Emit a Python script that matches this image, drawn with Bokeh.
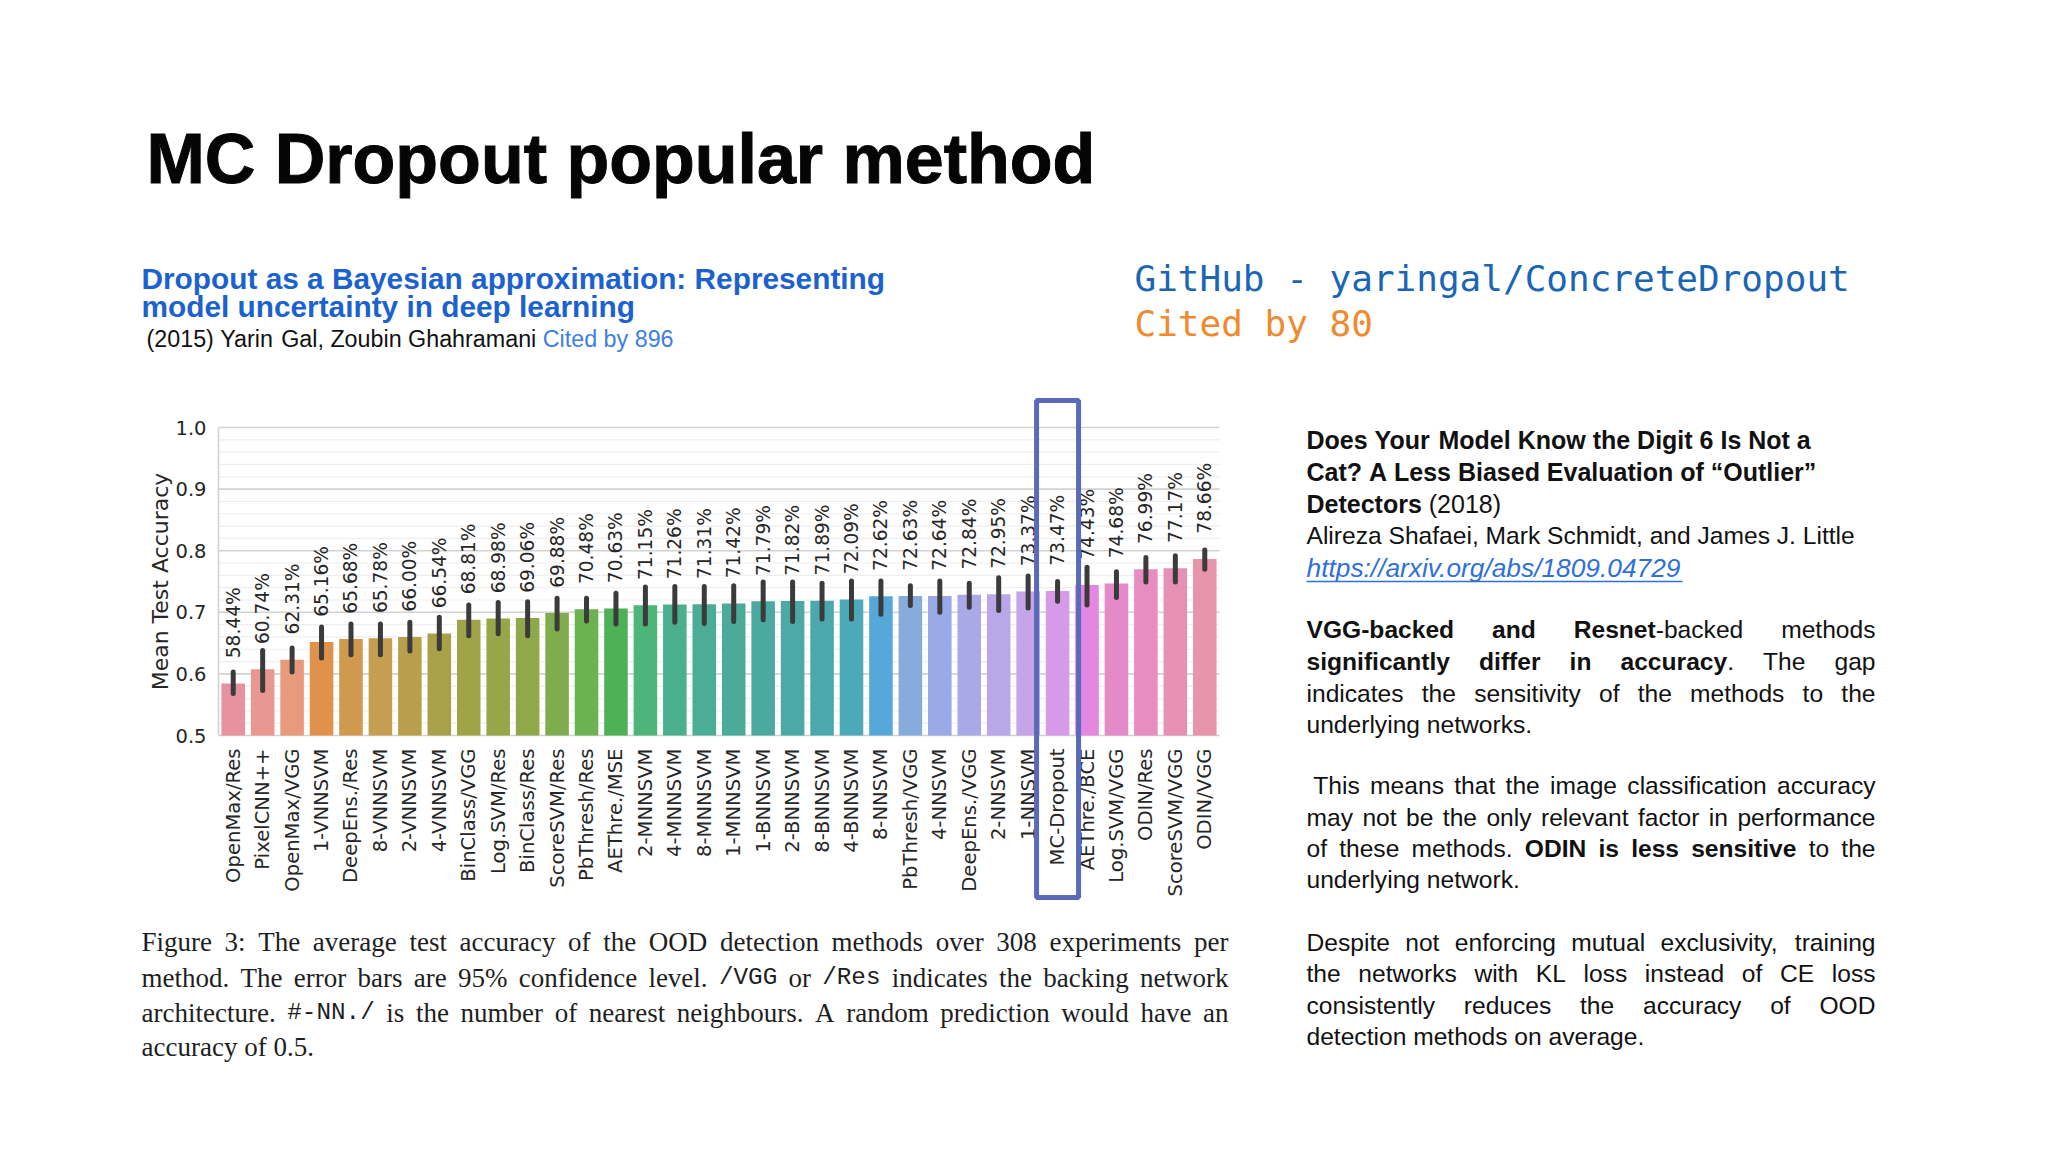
import numpy as np
from bokeh.plotting import figure
from bokeh.models import Range1d, ColumnDataSource
from bokeh.core.properties import value
from bokeh.embed import file_html
from bokeh.resources import INLINE

# ---------------- data ----------------
methods = ["OpenMax/Res", "PixelCNN++", "OpenMax/VGG", "1-VNNSVM", "DeepEns./Res",
           "8-VNNSVM", "2-VNNSVM", "4-VNNSVM", "BinClass/VGG", "Log.SVM/Res",
           "BinClass/Res", "ScoreSVM/Res", "PbThresh/Res", "AEThre./MSE", "2-MNNSVM",
           "4-MNNSVM", "8-MNNSVM", "1-MNNSVM", "1-BNNSVM", "2-BNNSVM", "8-BNNSVM",
           "4-BNNSVM", "8-NNSVM", "PbThresh/VGG", "4-NNSVM", "DeepEns./VGG", "2-NNSVM",
           "1-NNSVM", "MC-Dropout", "AEThre./BCE", "Log.SVM/VGG", "ODIN/Res",
           "ScoreSVM/VGG", "ODIN/VGG"]
accuracy_pct = [58.44, 60.74, 62.31, 65.16, 65.68, 65.78, 66.00, 66.54, 68.81, 68.98,
                69.06, 69.88, 70.48, 70.63, 71.15, 71.26, 71.31, 71.42, 71.79, 71.82,
                71.89, 72.09, 72.62, 72.63, 72.64, 72.84, 72.95, 73.37, 73.47, 74.43,
                74.68, 76.99, 77.17, 78.66]
ci_low = [0.568, 0.573, 0.603, 0.626, 0.631, 0.631, 0.637, 0.641, 0.662, 0.665,
          0.662, 0.673, 0.686, 0.681, 0.681, 0.684, 0.682, 0.685, 0.688, 0.685,
          0.689, 0.689, 0.697, 0.711, 0.700, 0.708, 0.703, 0.707, 0.718, 0.712,
          0.724, 0.749, 0.749, 0.770]
ci_high = [0.603, 0.638, 0.642, 0.676, 0.681, 0.681, 0.684, 0.692, 0.712, 0.716,
           0.717, 0.723, 0.723, 0.731, 0.741, 0.742, 0.742, 0.743, 0.749, 0.749,
           0.747, 0.751, 0.751, 0.743, 0.751, 0.747, 0.756, 0.759, 0.750, 0.773,
           0.766, 0.789, 0.792, 0.801]
bar_colors = ["#e8929f", "#e99791", "#e89b7c", "#e0914b", "#cf9a4d", "#c59e4f", "#b99f4c",
              "#a9a14a", "#9fa546", "#97a647", "#8ea84a", "#7fad4e", "#6cb250", "#4fb156",
              "#4db47a", "#4aaf8c", "#4bad96", "#4aab99", "#4aaa9f", "#4ba9a6", "#4ba9ad",
              "#4ca9b8", "#56a8d8", "#87acdc", "#9aaae6", "#aaa9e8", "#b9a7ea", "#c6a4e8",
              "#d79ae8", "#e487e0", "#e48ac8", "#e88dc0", "#e590b4", "#e795ab"]
y_ticks = [0.5, 0.6, 0.7, 0.8, 0.9, 1.0]
y_tick_labels = ["0.5", "0.6", "0.7", "0.8", "0.9", "1.0"]
highlight = "MC-Dropout"

# ---------------- canvas ----------------
W, H = 2032, 1136
def X(ox): return ox
def Y(oy): return oy
TEXT_DY = -8   # vertical correction for slide text runs

CH_LEFT, CH_RIGHT, CH_TOP, CH_BOT = 218, 1219, 427, 735
n = len(methods)
kx = (CH_RIGHT - CH_LEFT) / n
ky = (CH_BOT - CH_TOP) / 0.5

p = figure(width=W, height=H, x_range=Range1d(0, W), y_range=Range1d(H, 0),
           output_backend="svg", toolbar_location=None, min_border=0,
           x_axis_location=None, y_axis_location=None)
p.grid.visible = False
p.outline_line_color = None
p.background_fill_color = "white"
p.border_fill_color = "white"
p.extra_x_ranges = {"bx": Range1d(-0.5 - X(CH_LEFT) / kx, (n - 0.5) + (W - X(CH_RIGHT)) / kx)}
p.extra_y_ranges = {"by": Range1d(0.5 - (H - Y(CH_BOT)) / ky, 1.0 + Y(CH_TOP) / ky)}
R = dict(x_range_name="bx", y_range_name="by")

idx = list(range(n))
acc = [a / 100 for a in accuracy_pct]

# grid
minor = [round(0.5 + 0.02 * i, 2) for i in range(26)]
minor = [m for m in minor if all(abs(m - t) > 1e-6 for t in y_ticks)]
p.segment(x0=[-0.5] * len(minor), x1=[n - 0.5] * len(minor), y0=minor, y1=minor,
          line_color="#eeeeee", line_width=1.2, **R)
p.segment(x0=[-0.5] * len(y_ticks), x1=[n - 0.5] * len(y_ticks), y0=y_ticks, y1=y_ticks,
          line_color="#d2d2d2", line_width=1.6, **R)
p.segment(x0=[-0.5], x1=[-0.5], y0=[0.5], y1=[1.0], line_color="#d2d2d2", line_width=1.6, **R)

src = ColumnDataSource(dict(x=idx, top=acc, lo=ci_low, hi=ci_high, color=bar_colors,
                            lab=[f"{a:.2f}%" for a in accuracy_pct],
                            laby=[a + 0.041 for a in acc], name=methods))
p.vbar(x="x", top="top", bottom=0.5, width=0.8, fill_color="color", line_color=None,
       source=src, **R)
p.segment(x0="x", x1="x", y0="lo", y1="hi", line_color="#3b3b3b", line_width=5,
          line_cap="round", source=src, **R)
p.text(x="x", y="laby", text="lab", angle=np.pi / 2, text_align="left",
       text_baseline="middle", text_font=value("DejaVu Sans"),
       text_font_size=value("18.6px"), text_color="#262626", source=src, **R)
p.text(x="x", y=0.5 - 13 / ky, text="name", angle=np.pi / 2, text_align="right",
       text_baseline="middle", text_font=value("DejaVu Sans"),
       text_font_size=value("19.6px"), text_color="#262626", source=src, **R)
p.text(x=[-0.5] * len(y_ticks), y=y_ticks, text=y_tick_labels, x_offset=-12,
       text_align="right", text_baseline="middle", text_font=value("DejaVu Sans"),
       text_font_size=value("19.5px"), text_color="#262626", **R)
p.text(x=[-0.5], y=[0.75], text=["Mean Test Accuracy"], x_offset=-(CH_LEFT - 160),
       angle=np.pi / 2, text_align="center", text_baseline="middle",
       text_font=value("DejaVu Sans"), text_font_size=value("22px"),
       text_color="#262626", **R)

# highlight box around MC-Dropout
hi = methods.index(highlight)
box_top, box_bot = 1.0 + (CH_TOP - 400) / ky, 0.5 - (897 - CH_BOT) / ky
p.rect(x=[hi], y=[(box_top + box_bot) / 2], width=42 / kx, height=box_top - box_bot,
       fill_color=None, line_color="#5a69b8", line_width=5, **R)

# ---------------- text metrics ----------------
def mk(punct, pw, digits, p2, p2w, up, low):
    d = dict(zip(punct, pw))
    d.update({c: digits for c in "0123456789"})
    d.update(dict(zip(p2, p2w)))
    d.update(dict(zip("ABCDEFGHIJKLMNOPQRSTUVWXYZ", up)))
    d.update(dict(zip("abcdefghijklmnopqrstuvwxyz", low)))
    return d

HELV = mk(" !\"#$%&'()*+,-./", [278, 278, 355, 556, 556, 889, 667, 191, 333, 333, 389, 584, 278, 333, 278, 278],
          556, ":;<=>?@“”", [278, 278, 584, 584, 584, 556, 1015, 333, 333],
          [667, 667, 722, 722, 667, 611, 778, 722, 278, 500, 667, 556, 833, 722, 778, 667, 778, 722, 667, 611, 722, 667, 944, 667, 667, 611],
          [556, 556, 500, 556, 556, 278, 556, 556, 222, 222, 500, 222, 833, 556, 556, 556, 556, 333, 500, 278, 556, 500, 722, 500, 500, 500])
HELVB = mk(" !\"#$%&'()*+,-./", [278, 333, 474, 556, 556, 889, 722, 238, 333, 333, 389, 584, 278, 333, 278, 278],
           556, ":;<=>?@“”", [333, 333, 584, 584, 584, 611, 975, 500, 500],
           [722, 722, 722, 722, 667, 611, 778, 722, 278, 556, 722, 611, 833, 722, 778, 667, 778, 722, 667, 611, 722, 667, 944, 667, 667, 611],
           [556, 611, 556, 611, 556, 333, 611, 611, 278, 278, 556, 278, 889, 611, 611, 611, 611, 389, 556, 333, 611, 556, 778, 556, 556, 500])
TIMES = mk(" !\"#$%&'()*+,-./", [250, 333, 408, 500, 500, 833, 778, 180, 333, 333, 500, 564, 250, 333, 250, 278],
           500, ":;<=>?@", [278, 278, 564, 564, 564, 444, 921],
           [722, 667, 667, 722, 611, 556, 722, 722, 333, 389, 722, 611, 889, 722, 722, 556, 722, 667, 556, 611, 722, 722, 944, 722, 722, 611],
           [444, 500, 444, 500, 444, 333, 500, 500, 278, 278, 500, 278, 778, 500, 500, 500, 500, 333, 389, 278, 500, 500, 722, 500, 500, 444])

SANS = "Liberation Sans"
BLUE_HEAD = "#1b62cf"
BLUE_LINK = "#2f6fd8"
INK = "#111111"
KINDS = {
    "R": (SANS, "normal", INK, HELV, 1.0),
    "B": (SANS, "bold", INK, HELVB, 1.0),
    "I": (SANS, "italic", BLUE_LINK, HELV, 1.07),
    "H": (SANS, "bold", BLUE_HEAD, HELVB, 1.0),
    "C": (SANS, "normal", "#3d80e0", HELV, 1.0),
    "T": (SANS, "bold", "#0a0a0a", HELVB, 1.0),
    "S": ("Liberation Serif", "normal", "#1e1e1e", TIMES, 1.0),
    "M": ("Liberation Mono", "normal", "#1e1e1e", None, 0.9),
}

def measure(text, kind, size):
    font, style, color, table, f = KINDS[kind]
    if table is None:
        return len(text) * 0.6 * size * f
    return sum(table.get(ch, 556) for ch in text) / 1000.0 * size * f

runs = {}
def add_run(x, y, text, kind, size):
    font, style, color, table, f = KINDS[kind]
    key = (font, style, color, round(size * f, 2))
    d = runs.setdefault(key, dict(x=[], y=[], text=[]))
    d["x"].append(X(x)); d["y"].append(Y(y) + TEXT_DY); d["text"].append(text)

def to_words(segs):
    words = [[]]
    for text, kind in segs:
        parts = text.split(" ")
        for i, part in enumerate(parts):
            if i > 0:
                words.append([])
            if part:
                words[-1].append((part, kind))
    return [w for w in words if w]

def line(segs, x0, x1, y, size, justify=False):
    words = to_words(segs)
    base_kind = segs[0][1]
    if segs[0][0].startswith(" "):
        x0 += measure(" ", base_kind, size)
    widths = [sum(measure(t, k, size) for t, k in w) for w in words]
    if justify and len(words) > 1:
        gap = (x1 - x0 - sum(widths)) / (len(words) - 1)
    else:
        gap = measure(" ", base_kind, size)
    x = x0
    for w, ww in zip(words, widths):
        xx = x
        for t, k in w:
            add_run(xx, y, t, k, size)
            xx += measure(t, k, size)
        x += ww + gap
    return x - gap

# ---------------- header ----------------
title_src = ColumnDataSource(dict(x=[X(146)], y=[Y(166) + TEXT_DY], text=["MC Dropout popular method"]))
p.text(x="x", y="y", text="text", source=title_src, text_align="left",
       text_baseline="alphabetic", text_font=value(SANS), text_font_style="bold",
       text_color="#050505", text_font_size=value("70px"),
       text_outline_color="#050505")
line([("Dropout as a Bayesian approximation: Representing", "H")], 141, None, 286, 29.8)
line([("model uncertainty in deep learning", "H")], 141, None, 314, 29.8)
end = line([("(2015) Yarin Gal, Zoubin Ghahramani", "R")], 146, None, 346, 23.3)
line([("Cited by 896", "C")], end + measure(" ", "R", 23.3), None, 346, 23.3)

mono_runs = dict(x=[X(1134), X(1134)], y=[Y(286) + TEXT_DY, Y(331) + TEXT_DY],
                 text=["GitHub - yaringal/ConcreteDropout", "Cited by 80"],
                 color=["#1a66b5", "#ef8a2e"])
p.text(x="x", y="y", text="text", text_color="color", text_align="left",
       text_baseline="alphabetic", text_font=value("DejaVu Sans Mono"),
       text_font_size=value("36px"), source=ColumnDataSource(mono_runs))

# ---------------- right column ----------------
RX0, RX1 = 1306, 1875
BS = 25
SZ = 24.6
line([("Does Your Model Know the Digit 6 Is Not a", "B")], RX0, RX1, 447, BS)
line([("Cat? A Less Biased Evaluation of “Outlier”", "B")], RX0, RX1, 479, BS)
line([("Detectors", "B"), (" (2018)", "R")], RX0, RX1, 511, BS)
line([("Alireza Shafaei, Mark Schmidt, and James J. Little", "R")], RX0, RX1, 543, SZ)
link = "https://arxiv.org/abs/1809.04729"
link_end = line([(link, "I")], RX0, RX1, 575, SZ)
p.segment(x0=[X(RX0)], x1=[X(link_end)], y0=[Y(581)], y1=[Y(581)],
          line_color=BLUE_LINK, line_width=1.5)

paras = [
    ([[("VGG-backed and Resnet", "B"), ("-backed methods", "R")],
      [("significantly differ in accuracy", "B"), (". The gap", "R")],
      [("indicates the sensitivity of the methods to the", "R")],
      [("underlying networks.", "R")]], [637, 669, 701, 732]),
    ([[(" This means that the image classification accuracy", "R")],
      [("may not be the only relevant factor in performance", "R")],
      [("of these methods. ", "R"), ("ODIN is less sensitive", "B"), (" to the", "R")],
      [("underlying network.", "R")]], [793, 825, 856, 887]),
    ([[("Despite not enforcing mutual exclusivity, training", "R")],
      [("the networks with KL loss instead of CE loss", "R")],
      [("consistently reduces the accuracy of OOD", "R")],
      [("detection methods on average.", "R")]], [950, 981, 1013, 1044]),
]
for lines_, ys in paras:
    for i, (segs, yy) in enumerate(zip(lines_, ys)):
        line(segs, RX0, RX1, yy, SZ, justify=(i < len(lines_) - 1))

# ---------------- caption ----------------
CX0, CX1 = 141, 1228
CS = 27
cap = [
    [("Figure 3: The average test accuracy of the OOD detection methods over 308 experiments per", "S")],
    [("method. The error bars are 95% confidence level. ", "S"), ("/VGG", "M"), (" or ", "S"),
     ("/Res", "M"), (" indicates the backing network", "S")],
    [("architecture. ", "S"), ("#-NN./", "M"),
     (" is the number of nearest neighbours. A random prediction would have an", "S")],
    [("accuracy of 0.5.", "S")],
]
for i, (segs, yy) in enumerate(zip(cap, [949, 985, 1020, 1054])):
    line(segs, CX0, CX1, yy, CS, justify=(i < len(cap) - 1))

for (font, style, color, size), d in runs.items():
    p.text(x="x", y="y", text="text", source=ColumnDataSource(d), text_align="left",
           text_baseline="alphabetic", text_font=value(font), text_font_style=style,
           text_color=color, text_font_size=value(f"{size}px"))

open("out.html", "w").write(file_html(p, INLINE))
